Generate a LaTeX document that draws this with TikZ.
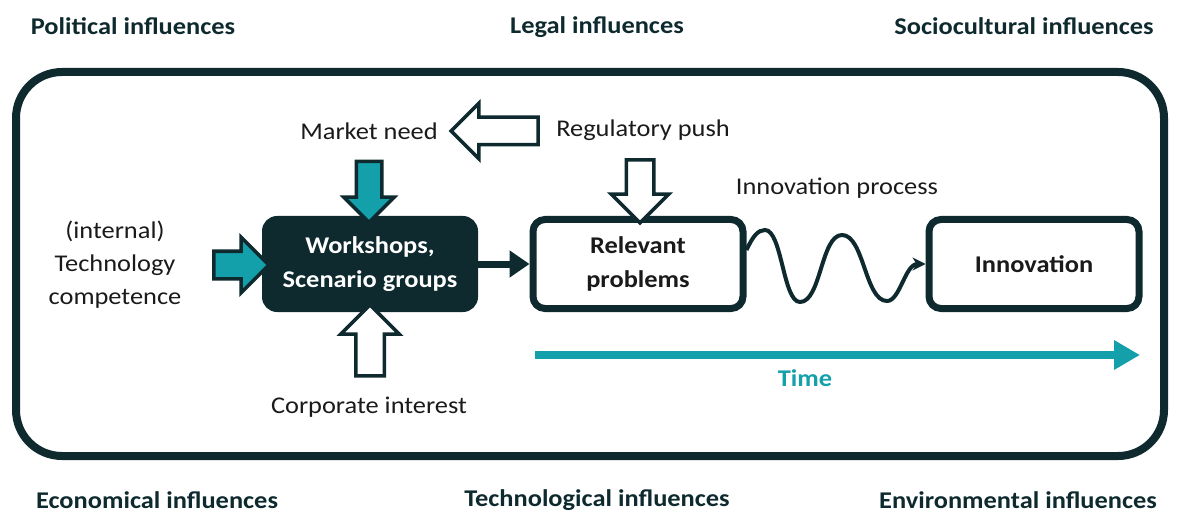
\documentclass[tikz,border=0pt]{standalone}
\usepackage{fontspec}
\setmainfont{Carlito}[FakeStretch=1.1]
\usetikzlibrary{arrows.meta,shapes.arrows}
\definecolor{ink}{HTML}{0E2A2E}
\definecolor{petrol}{HTML}{14A0AB}
\definecolor{txt}{HTML}{1A1A1A}

\begin{document}
\begin{tikzpicture}[
  x=1pt, y=-1pt,
  font=\fontsize{24}{33}\selectfont,
  >=Latex,
  frame/.style={draw=ink, line width=8pt, rounded corners=46pt, minimum width=1148pt, minimum height=384pt},
  darkbox/.style={draw=ink, fill=ink, text=white, line width=2pt, rounded corners=14pt, align=center, font=\fontsize{24}{34}\selectfont\bfseries, minimum width=214pt, minimum height=94pt},
  box/.style={draw=ink, fill=white, text=txt, line width=7pt, rounded corners=12pt, align=center, font=\fontsize{24}{34}\selectfont\bfseries, minimum width=210pt, minimum height=89pt},
  lbl/.style={text=txt, align=center},
  influence/.style={text=ink, font=\fontsize{24}{28}\selectfont\bfseries},
  blockarrow/.style={single arrow, draw=ink, line width=3.5pt, single arrow head indent=0pt},
  fullarrow/.style={blockarrow, fill=petrol},
  hollowarrow/.style={blockarrow, fill=white},
  flow/.style={draw=ink, line width=7pt, -{Triangle[length=20pt,width=26pt]}},
  wave/.style={draw=ink, line width=4pt, -{Stealth[length=13pt,width=13pt]}},
  timeline/.style={draw=petrol, line width=8pt, -{Triangle[length=26pt,width=28pt]}},
]
\useasboundingbox (0,0) rectangle (1178,513);

\node[influence] (pol) at (133,26) {Political influences};
\node[influence] (leg) at (597,27) {Legal influences};
\node[influence] (soc) at (1024,26) {Sociocultural influences};
\node[influence] (eco) at (157,500) {Economical influences};
\node[influence] (tec) at (597,500) {Technological influences};
\node[influence] (env) at (1018,500) {Environmental influences};

\node[frame] (frame) at (590,264) {};

\node[darkbox] (work) at (370,264) {Workshops,\\Scenario groups};
\node[box] (rel) at (638,264) {Relevant\\problems};
\node[box] (inno) at (1034,264) {Innovation};

\node[lbl] (mneed) at (369,131) {Market need};
\node[lbl] (regpush) at (643,130) {Regulatory push};
\node[lbl] (iproc) at (837,188) {Innovation process};
\node[lbl] (techcomp) at (115,265) {(internal)\\Technology\\competence};
\node[lbl] (corp) at (369,407) {Corporate interest};
\node[text=petrol, font=\fontsize{24}{28}\selectfont\bfseries] (time) at (805,378) {Time};

\node[fullarrow, shape border rotate=270, inner sep=11pt, minimum height=61pt, single arrow head extend=12.5pt] (marr) at (369,185.5) {};
\node[fullarrow, inner sep=12pt, minimum height=55pt, single arrow head extend=14pt] (tarr) at (234.5,265) {};
\node[hollowarrow, shape border rotate=90, inner sep=12.5pt, minimum height=71pt, single arrow head extend=15pt] (carr) at (370,347.5) {};
\node[hollowarrow, shape border rotate=270, inner sep=12pt, minimum height=63pt, single arrow head extend=15pt] (rarr) at (640,184.5) {};
\node[hollowarrow, shape border rotate=180, inner sep=12pt, minimum height=87pt, single arrow head extend=14pt] (larr) at (501.5,131) {};

\draw[flow] (work.east) -- (rel.west);

\draw[wave] ([yshift=14pt]rel.east) .. controls (753,236) and (758,230) .. (765,230)
  .. controls (782,230) and (783,302) .. (800,302)
  .. controls (821,302) and (821,235) .. (842,235)
  .. controls (864,235) and (865,301) .. (887,301)
  .. controls (900,301) and (905,264) .. (inno.west);

\coordinate (tstart) at (535,355);
\coordinate (tend) at (1140,355);
\draw[timeline] (tstart) -- (tend);

\end{tikzpicture}
\end{document}
